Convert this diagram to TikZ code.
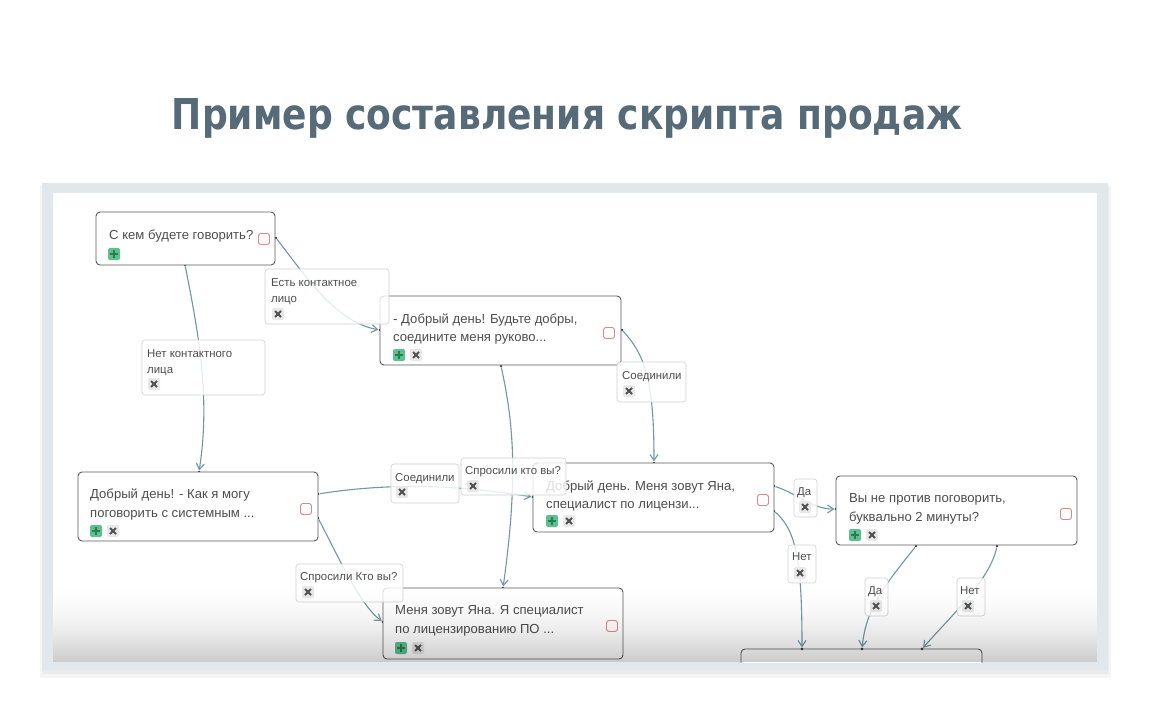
\documentclass[tikz,border=0pt]{standalone}
\usepackage{fontspec}
\setmainfont{Liberation Sans}
\newfontfamily\titlefont{DejaVu Sans}
\usetikzlibrary{arrows.meta}
\definecolor{titlec}{HTML}{566B77}
\definecolor{framec}{HTML}{E1E7EB}
\definecolor{linec}{HTML}{6F98A4}
\definecolor{boxc}{HTML}{5A5A5A}
\definecolor{lblc}{HTML}{D0D0D0}
\definecolor{txtc}{HTML}{4D4D4D}
\definecolor{greenc}{HTML}{5CC08F}
\definecolor{plusc}{HTML}{2F7A4F}
\definecolor{xfill}{HTML}{E8E8E8}
\definecolor{xc}{HTML}{505050}
\definecolor{redc}{HTML}{D88A8A}
\definecolor{dotc}{HTML}{333333}
\tikzset{
  card/.style={draw=boxc, line width=0.9pt, rounded corners=4pt, fill=white, inner sep=0pt},
  lbl/.style={draw=lblc, line width=0.6pt, rounded corners=3pt, fill=white, fill opacity=0.82, inner sep=0pt},
  ctext/.style={anchor=base west, inner sep=0pt, text=txtc, font=\fontsize{13.1}{15}\selectfont},
  ltext/.style={anchor=base west, inner sep=0pt, text=txtc, font=\fontsize{11.4}{13}\selectfont},
  plusicon/.style={fill=greenc, rounded corners=2pt, minimum size=12pt, inner sep=0pt,
    path picture={\draw[plusc, line width=2.2pt] ([xshift=-4pt]path picture bounding box.center) -- ([xshift=4pt]path picture bounding box.center);
                  \draw[plusc, line width=2.2pt] ([yshift=-4pt]path picture bounding box.center) -- ([yshift=4pt]path picture bounding box.center);}},
  xicon/.style={fill=xfill, rounded corners=2pt, minimum size=12pt, inner sep=0pt,
    path picture={\draw[xc, line width=1.9pt] ([shift={(-3pt,-3pt)}]path picture bounding box.center) -- ([shift={(3pt,3pt)}]path picture bounding box.center);
                  \draw[xc, line width=1.9pt] ([shift={(-3pt,3pt)}]path picture bounding box.center) -- ([shift={(3pt,-3pt)}]path picture bounding box.center);}},
  redsq/.style={draw=redc, line width=0.9pt, rounded corners=2.5pt, fill=white, minimum size=11pt, inner sep=0pt},
  cdot/.style={circle, fill=dotc, minimum size=2.8pt, inner sep=0pt},
  conn/.style={draw=linec, line width=1.1pt},
  arr/.style={conn, -{Straight Barb[length=6pt, width=8pt, line width=1.1pt]}}
}
\begin{document}
\begin{tikzpicture}[x=1pt, y=-1pt]
\useasboundingbox (0,0) rectangle (1150,719);
\fill[white] (0,0) rectangle (1150,719);

% title
\node[anchor=base, inner sep=0pt, text=titlec] (title) at (567,130)
  {\resizebox{790pt}{31pt}{\titlefont\bfseries Пример составления скрипта продаж}};

% frame with soft shadow
\fill[black, opacity=0.04] (40,186) rectangle (1111,678);
\fill[black, opacity=0.04] (42,186) rectangle (1109,674);
\fill[framec] (42,183) rectangle (1108,670);
\fill[white] (53,193) rectangle (1097,662);

% connection points
\node[cdot] (n1r) at (276,238) {};
\node[cdot] (n1b) at (185,265) {};
\node[cdot] (n2l) at (380,330) {};
\node[cdot] (n2r) at (622,330) {};
\node[cdot] (n2b) at (501,366) {};
\node[cdot] (n3t) at (199,472) {};
\node[cdot] (n3r) at (318,494) {};
\node[cdot] (n3s) at (318,518) {};
\node[cdot] (n4t) at (654,463) {};
\node[cdot] (n4l) at (533,497) {};
\node[cdot] (n4r) at (774,486) {};
\node[cdot] (n4s) at (774,511) {};
\node[cdot] (n5t) at (503,588) {};
\node[cdot] (n5l) at (383,622) {};
\node[cdot] (n6l) at (836,509) {};
\node[cdot] (n6b) at (916,546) {};
\node[cdot] (n6s) at (997,546) {};
\node[cdot] (n7a) at (802,649) {};
\node[cdot] (n7b) at (862,649) {};
\node[cdot] (n7c) at (922,649) {};

% connectors
\draw[arr] (n1r) .. controls (305,275) and (335,322) .. (n2l);
\draw[arr] (n1b) .. controls (200,340) and (210,400) .. (n3t);
\draw[arr] (n2r) .. controls (645,355) and (654,380) .. (n4t);
\draw[arr] (n2b) .. controls (514,425) and (518,480) .. (n5t);
\draw[arr] (n3r) .. controls (400,481) and (470,487) .. (n4l);
\draw[arr] (n3s) .. controls (340,560) and (360,605) .. (n5l);
\draw[arr] (n4r) .. controls (800,495) and (812,509) .. (n6l);
\draw[arr] (n4s) .. controls (796,530) and (802,560) .. (n7a);
\draw[arr] (n6b) .. controls (885,585) and (866,608) .. (n7b);
\draw[arr] (n6s) .. controls (990,580) and (950,617) .. (n7c);

% cards
\node[card, minimum width=179pt, minimum height=53pt] (n1) at (185.5,238.5) {};
\node[ctext] (t1) at (109,240) {С кем будете говорить?};
\node[plusicon] (p1) at (114,254) {};
\node[redsq] (r1) at (264,239) {};

\node[card, minimum width=241pt, minimum height=69pt] (n2) at (500.5,330.5) {};
\node[ctext] (t2a) at (393,323) {- Добрый день! Будьте добры,};
\node[ctext] (t2b) at (393,341) {соедините меня руково...};
\node[plusicon] (p2) at (399,355) {};
\node[xicon] (x2) at (416,355) {};
\node[redsq] (r2) at (609,333) {};

\node[card, minimum width=240pt, minimum height=69pt] (n3) at (198,506.5) {};
\node[ctext] (t3a) at (90,498) {Добрый день! - Как я могу};
\node[ctext] (t3b) at (90,517) {поговорить с системным ...};
\node[plusicon] (p3) at (96,531) {};
\node[xicon] (x3) at (113,531) {};
\node[redsq] (r3) at (306,509) {};

\node[card, minimum width=241pt, minimum height=69pt] (n4) at (653.5,497.5) {};
\node[ctext] (t4a) at (546,490) {Добрый день. Меня зовут Яна,};
\node[ctext] (t4b) at (546,508) {специалист по лицензи...};
\node[plusicon] (p4) at (552,521) {};
\node[xicon] (x4) at (569,521) {};
\node[redsq] (r4) at (763,500) {};

\node[card, minimum width=240pt, minimum height=71pt] (n5) at (503,623.5) {};
\node[ctext] (t5a) at (395,614) {Меня зовут Яна. Я специалист};
\node[ctext] (t5b) at (395,633) {по лицензированию ПО ...};
\node[plusicon] (p5) at (401,648) {};
\node[xicon] (x5) at (418,648) {};
\node[redsq] (r5) at (612,626) {};

\node[card, minimum width=241pt, minimum height=69pt] (n6) at (956.5,510.5) {};
\node[ctext] (t6a) at (849,502) {Вы не против поговорить,};
\node[ctext] (t6b) at (849,521) {буквально 2 минуты?};
\node[plusicon] (p6) at (855,535) {};
\node[xicon] (x6) at (872,535) {};
\node[redsq] (r6) at (1066,514) {};

\begin{scope}
\clip (53,193) rectangle (1097,662);
\node[card, minimum width=241pt, minimum height=40pt] (n7) at (861.5,669) {};
\end{scope}
\node[cdot] (n7a2) at (802,649) {};
\node[cdot] (n7b2) at (862,649) {};
\node[cdot] (n7c2) at (922,649) {};

% labels
\node[lbl, minimum width=124pt, minimum height=55pt] (l1) at (327,296.5) {};
\node[ltext] (l1a) at (271,286) {Есть контактное};
\node[ltext] (l1b) at (271,302) {лицо};
\node[xicon] (l1x) at (278,314) {};

\node[lbl, minimum width=123pt, minimum height=55pt] (l2) at (203.5,367.5) {};
\node[ltext] (l2a) at (147,357) {Нет контактного};
\node[ltext] (l2b) at (147,373) {лица};
\node[xicon] (l2x) at (154,384) {};

\node[lbl, minimum width=69pt, minimum height=40pt] (l3) at (651.5,382) {};
\node[ltext] (l3a) at (622,379) {Соединили};
\node[xicon] (l3x) at (629,391) {};

\node[lbl, minimum width=68pt, minimum height=39pt] (l4) at (425,483.5) {};
\node[ltext] (l4a) at (395,481) {Соединили};
\node[xicon] (l4x) at (402,492) {};

\node[lbl, minimum width=105pt, minimum height=37pt] (l5) at (513.5,476.5) {};
\node[ltext] (l5a) at (465,474) {Спросили кто вы?};
\node[xicon] (l5x) at (473,486) {};

\node[lbl, minimum width=107pt, minimum height=38pt] (l6) at (349.5,583) {};
\node[ltext] (l6a) at (300,580) {Спросили Кто вы?};
\node[xicon] (l6x) at (308,592) {};

\node[lbl, minimum width=23pt, minimum height=38pt] (l7) at (805.5,498) {};
\node[ltext] (l7a) at (797,495) {Да};
\node[xicon] (l7x) at (805,507) {};

\node[lbl, minimum width=28pt, minimum height=38pt] (l8) at (802,564) {};
\node[ltext] (l8a) at (792,560) {Нет};
\node[xicon] (l8x) at (800,573) {};

\node[lbl, minimum width=23pt, minimum height=38pt] (l9) at (876.5,597) {};
\node[ltext] (l9a) at (868,594) {Да};
\node[xicon] (l9x) at (876,606) {};

\node[lbl, minimum width=28pt, minimum height=38pt] (l10) at (971,597) {};
\node[ltext] (l10a) at (960,594) {Нет};
\node[xicon] (l10x) at (968,606) {};

% bottom fade of the canvas (gradual strips)
\foreach \i in {0,...,39} {
  \pgfmathsetmacro{\op}{0.2*((\i+1)/40)^2}
  \fill[black, opacity=\op] (53,{582+2*\i}) rectangle (1097,{584+2*\i});
}
\end{tikzpicture}
\end{document}
